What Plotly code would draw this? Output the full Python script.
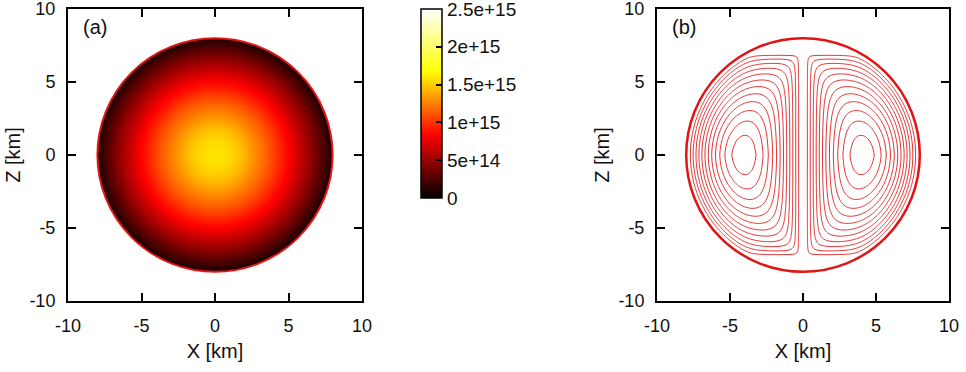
import numpy as np
import plotly.graph_objects as go

# ---------------- data ----------------
R_STAR = 8.0  # stellar radius [km]

# (a) density profile along the radius [km] -> density
rho_r = [0.0, 0.5, 1.0, 1.5, 2.0, 2.5, 3.0, 3.5, 4.0, 4.5, 5.0, 5.5, 6.0, 6.5, 7.0, 7.5, 8.0]
rho_vals = [1.58e15, 1.57e15, 1.54e15, 1.49e15, 1.42e15, 1.33e15, 1.24e15, 1.15e15,
            1.05e15, 0.94e15, 0.84e15, 0.72e15, 0.60e15, 0.48e15, 0.35e15, 0.22e15, 0.08e15]

# (b) flux-function profiles: inner (|x|), vertical (|z|), outer (r)
prof_km = [0, 1, 2, 3, 4, 5, 6, 7, 8]
psi_inner = [0.0, 0.27, 0.54, 0.81, 1.08, 1.35, 1.62, 1.89, 2.16]
psi_vert = [1.60, 1.45, 1.25, 1.02, 0.78, 0.54, 0.30, 0.04, 0.0]
psi_outer = [2.24, 1.96, 1.68, 1.40, 1.12, 0.84, 0.56, 0.28, 0.0]
psi_levels = dict(start=0.08, end=0.665, size=0.053)

cb_vals = [0, 5e14, 1e15, 1.5e15, 2e15, 2.5e15]
cb_text = ['0', '5e+14', '1e+15', '1.5e+15', '2e+15', '2.5e+15']
ax_vals = [-10, -5, 0, 5, 10]
ax_text = ['-10', '-5', '0', '5', '10']

# ---------------- tables for the library ----------------
g = np.linspace(-R_STAR, R_STAR, 321)
X, Z = np.meshgrid(g, g)
RR = np.sqrt(X**2 + Z**2)
rho = np.interp(RR, rho_r, rho_vals)
rho_tab = np.where(RR <= R_STAR, rho, np.nan)
rho_list = [[None if np.isnan(v) else float(v) for v in row] for row in rho_tab]

gp = np.linspace(-R_STAR - 0.2, R_STAR + 0.2, 241)
XP, ZP = np.meshgrid(gp, gp)
RP = np.sqrt(XP**2 + ZP**2)
P = np.interp(np.abs(XP), prof_km, psi_inner)
Q = np.interp(np.abs(ZP), prof_km, psi_vert, right=0.0)
Ro = np.interp(RP, prof_km, psi_outer, right=0.0)
NSM = 2.0
with np.errstate(divide='ignore', invalid='ignore'):
    psi = (P**-NSM + Q**-NSM + Ro**-NSM) ** (-1.0 / NSM)
psi = np.where((P > 0) & (Q > 0) & (Ro > 0), psi, 0.0)

FONT = 'Liberation Sans, Arial, Helvetica, sans-serif'
TXT = '#111'
hot = [[0.0, 'rgb(0,0,0)'], [1/3, 'rgb(255,0,0)'], [2/3, 'rgb(255,255,0)'], [1.0, 'rgb(255,255,255)']]
LINE_RED = 'rgb(228,50,50)'

# pixel geometry of the figure
W, H = 966, 372
ML, MR, MT, MB = 68, 17, 9, 71
PW, PH = W - ML - MR, H - MT - MB

fig = go.Figure()
fig.add_trace(go.Heatmap(
    x=g, y=g, z=rho_list, zmin=0, zmax=2.5e15, colorscale=hot, hoverongaps=False,
    colorbar=dict(tickvals=cb_vals, ticktext=cb_text, ticks='inside', ticklen=6,
                  tickcolor='black', tickwidth=1.5, outlinewidth=1.5, outlinecolor='black',
                  thickness=21, thicknessmode='pixels', len=189/PH, lenmode='fraction',
                  x=(421 - ML)/PW, xanchor='left', y=1.0, yanchor='top', xpad=0, ypad=0,
                  ticklabeloverflow='allow',
                  tickfont=dict(size=19, family=FONT, color=TXT)),
    xaxis='x', yaxis='y'))

fig.add_trace(go.Contour(
    x=gp, y=gp, z=psi, showscale=False,
    contours=dict(coloring='lines', showlabels=False, **psi_levels),
    colorscale=[[0, LINE_RED], [1, LINE_RED]],
    line=dict(width=1, smoothing=1),
    xaxis='x2', yaxis='y2'))

axis_common = dict(range=[-10, 10], tickmode='array', tickvals=ax_vals, ticktext=ax_text,
                   ticks='inside', ticklen=8, tickwidth=2, tickcolor='black',
                   showline=True, linewidth=2, linecolor='black', mirror='ticks',
                   showgrid=False, zeroline=False, automargin=False,
                   ticklabeloverflow='allow', ticklabelstandoff=7,
                   tickfont=dict(size=18, family=FONT, color=TXT))

xt = dict(text='X [km]', font=dict(size=20, family=FONT, color=TXT), standoff=9)
zt = dict(text='Z [km]', font=dict(size=20, family=FONT, color=TXT), standoff=3)

fig.update_layout(
    width=W, height=H, margin=dict(l=ML, r=MR, t=MT, b=MB, autoexpand=False),
    paper_bgcolor='white', plot_bgcolor='white', showlegend=False,
    font=dict(family=FONT, size=18, color=TXT),
    xaxis=dict(domain=[0, 294/PW], anchor='y', title=xt, **axis_common),
    yaxis=dict(domain=[0, 1], anchor='x', title=zt, **axis_common),
    xaxis2=dict(domain=[(657 - ML)/PW, 1], anchor='y2', title=xt, **axis_common),
    yaxis2=dict(domain=[0, 1], anchor='x2', title=zt, **axis_common),
    shapes=[
        dict(type='circle', xref='x', yref='y', x0=-R_STAR, y0=-R_STAR, x1=R_STAR, y1=R_STAR,
             line=dict(color='rgb(230,20,20)', width=2)),
        dict(type='circle', xref='x2', yref='y2', x0=-R_STAR, y0=-R_STAR, x1=R_STAR, y1=R_STAR,
             line=dict(color='rgb(225,20,20)', width=2.5)),
    ],
    annotations=[
        dict(text='(a)', xref='x domain', yref='y domain', x=0.092, y=0.94,
             showarrow=False, xanchor='center', yanchor='middle', font=dict(size=20)),
        dict(text='(b)', xref='x2 domain', yref='y2 domain', x=0.092, y=0.94,
             showarrow=False, xanchor='center', yanchor='middle', font=dict(size=20)),
    ],
)

# remove the browser's default 8 px page margin so the figure sits at the window corner
fig.write_html('out.html', config={'displayModeBar': False},
               post_script="document.body.style.margin='0px';")
